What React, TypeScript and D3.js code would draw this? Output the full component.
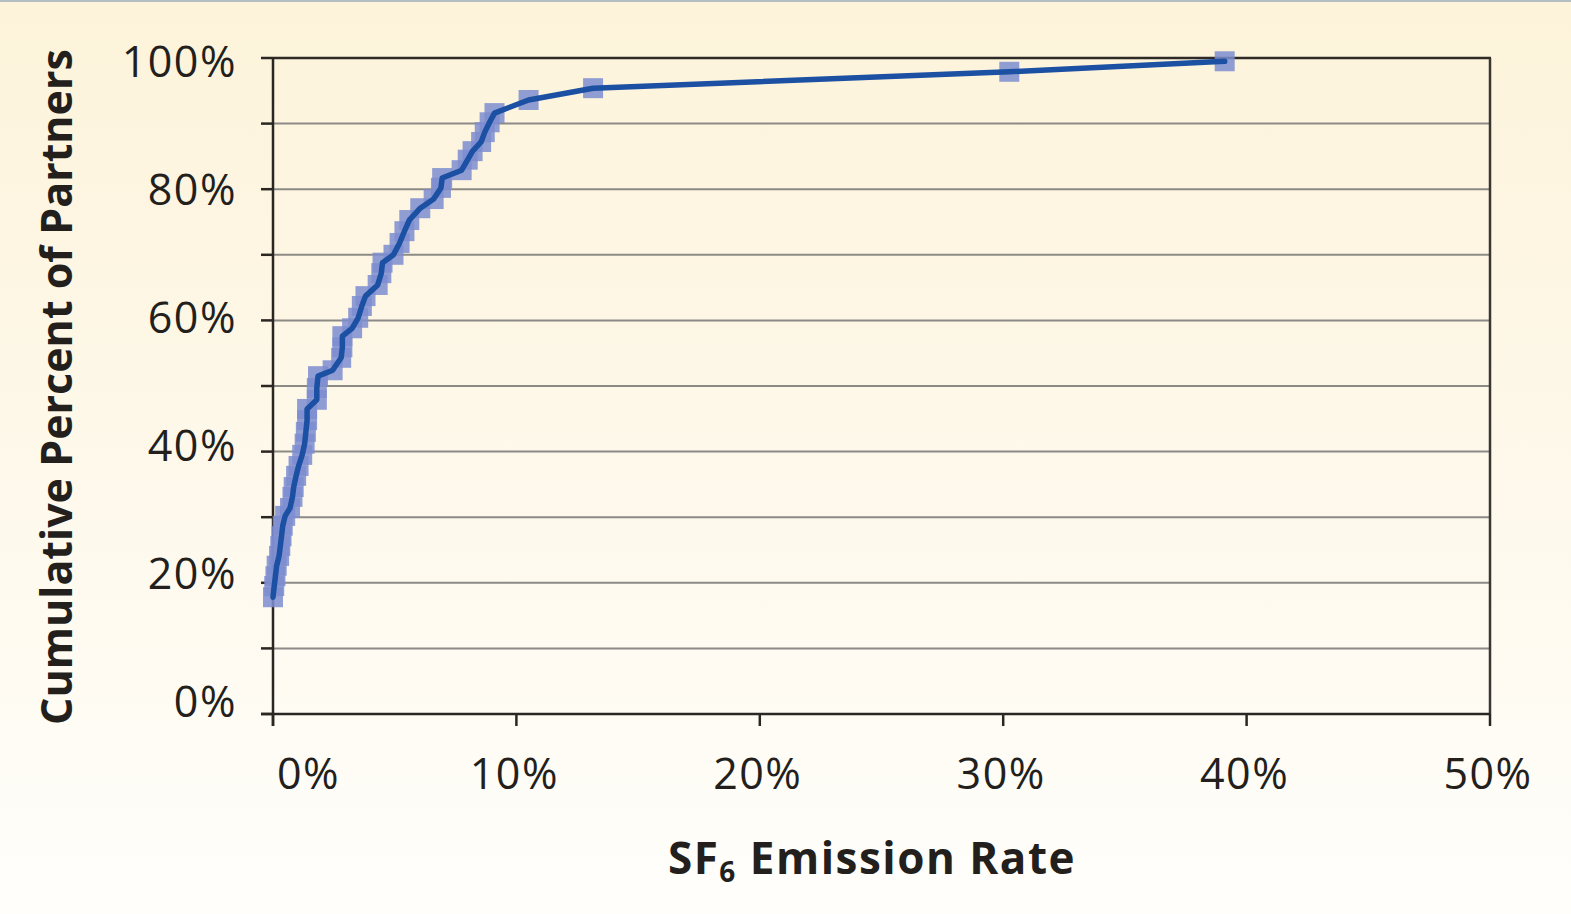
import React from "react";
import * as d3 from "d3";

const emissionRate: number[] = [
  0.0, 0.05, 0.1, 0.15, 0.25, 0.3, 0.35, 0.4, 0.5, 0.7, 0.8, 0.85, 0.95, 1.05, 1.2, 1.3,
  1.35, 1.4, 1.4, 1.8, 1.8, 1.85, 2.45, 2.8, 2.85, 2.85, 3.25, 3.5, 3.65, 3.8, 4.3, 4.45,
  4.5, 4.95, 5.2, 5.4, 5.6, 6.05, 6.6, 6.9, 6.95, 7.75, 8.0, 8.2, 8.55, 8.7, 8.9, 9.1,
  10.5, 13.15, 30.25, 39.1,
];
const cumulativePct: number[] = [
  17.8, 19.5, 21.0, 22.6, 24.1, 25.6, 27.1, 28.7, 30.2, 31.4, 33.1, 34.6, 36.3, 37.8, 39.5, 41.2,
  43.0, 44.8, 46.5, 47.9, 49.7, 51.5, 52.4, 54.3, 55.9, 57.6, 58.8, 60.4, 62.2, 63.7, 65.4, 67.2,
  68.8, 70.0, 71.8, 73.6, 75.3, 77.1, 78.5, 80.2, 81.7, 82.9, 84.5, 85.8, 87.2, 88.7, 90.2, 91.6,
  93.6, 95.4, 97.9, 99.5,
];
const xTickValues: number[] = [0, 10, 20, 30, 40, 50];
const yGridValues: number[] = [0, 10, 20, 30, 40, 50, 60, 70, 80, 90, 100];
const yLabelValues: number[] = [0, 20, 40, 60, 80, 100];

const W = 1571;
const H = 914;
const LEFT = 273;
const RIGHT = 1490;
const TOP = 58;
const BOTTOM = 714;

export default function App() {
  const x = d3.scaleLinear().domain([0, 50]).range([LEFT, RIGHT]);
  const y = d3.scaleLinear().domain([0, 100]).range([BOTTOM, TOP]);
  // tick labels sit slightly inside the gridline spacing in the original
  const yLabel = d3.scaleLinear().domain([0, 100]).range([700, 60]);

  const pts = emissionRate.map((r, i) => [r, cumulativePct[i]] as [number, number]);
  const line = d3
    .line<[number, number]>()
    .x((d) => x(d[0]))
    .y((d) => y(d[1]));

  const ms = 20;
  const font = "'Open Sans', 'Noto Sans', sans-serif";

  return (
    <svg
      width={W}
      height={H}
      style={{ position: "absolute", left: 0, top: 0, display: "block" }}
    >
      <defs>
        <linearGradient id="bg" x1="0" y1="0" x2="0" y2="1">
          <stop offset="0%" stopColor="#fdf3da" />
          <stop offset="55%" stopColor="#fef9ec" />
          <stop offset="100%" stopColor="#fffefb" />
        </linearGradient>
      </defs>
      <rect x={0} y={0} width={W} height={H} fill="url(#bg)" />
      <rect x={0} y={0} width={W} height={2} fill="#b4bcc4" />

      {/* gridlines */}
      {yGridValues
        .filter((v) => v !== 0 && v !== 100)
        .map((v) => (
          <line
            key={"g" + v}
            x1={LEFT}
            x2={RIGHT}
            y1={y(v)}
            y2={y(v)}
            stroke="#8c8a86"
            strokeWidth={2}
          />
        ))}
      {/* frame top & right */}
      <line x1={LEFT} x2={RIGHT + 1} y1={y(100)} y2={y(100)} stroke="#2e2a26" strokeWidth={2.5} />
      <line x1={RIGHT} x2={RIGHT} y1={y(100)} y2={BOTTOM} stroke="#3a3632" strokeWidth={2.5} />

      {/* y axis */}
      <line x1={LEFT} x2={LEFT} y1={y(100)} y2={BOTTOM + 12} stroke="#2a2622" strokeWidth={2.5} />
      {yGridValues.map((v) => (
        <line
          key={"yt" + v}
          x1={LEFT - 12}
          x2={LEFT}
          y1={y(v)}
          y2={y(v)}
          stroke="#2a2622"
          strokeWidth={2.5}
        />
      ))}
      {yLabelValues.map((v) => (
        <text
          key={"yl" + v}
          x={237}
          y={yLabel(v)}
          textAnchor="end"
          dominantBaseline="central"
          fontFamily={font}
          fontSize={43}
          letterSpacing={1.5}
          fill="#231f1c"
        >
          {v + "%"}
        </text>
      ))}

      {/* x axis */}
      <line x1={LEFT - 12} x2={RIGHT} y1={BOTTOM} y2={BOTTOM} stroke="#2a2622" strokeWidth={2.5} />
      {xTickValues.map((v) => (
        <line
          key={"xt" + v}
          x1={x(v)}
          x2={x(v)}
          y1={BOTTOM}
          y2={BOTTOM + 12}
          stroke="#2a2622"
          strokeWidth={2.5}
        />
      ))}
      {xTickValues.map((v, i) => (
        <text
          key={"xl" + v}
          x={i === 0 ? x(v) + 4 : x(v) - 2}
          y={789}
          textAnchor={i === 0 ? "start" : "middle"}
          fontFamily={font}
          fontSize={43}
          letterSpacing={1.5}
          fill="#231f1c"
        >
          {v + "%"}
        </text>
      ))}

      {/* axis titles */}
      <text
        transform={`translate(72, ${387}) rotate(-90)`}
        textAnchor="middle"
        fontFamily={font}
        fontWeight={700}
        fontSize={43}
        fill="#231f1c"
      >
        Cumulative Percent of Partners
      </text>
      <text
        x={872}
        y={874}
        textAnchor="middle"
        fontFamily={font}
        fontWeight={700}
        fontSize={44}
        letterSpacing={1.5}
        fill="#231f1c"
      >
        SF
        <tspan fontSize={28} dy={8}>6</tspan>
        <tspan dy={-8}> Emission Rate</tspan>
      </text>

      {/* markers */}
      {pts.map((d, i) => (
        <rect
          key={"m" + i}
          x={x(d[0]) - ms / 2}
          y={y(d[1]) - ms / 2}
          width={ms}
          height={ms}
          fill="#7d8dd0"
          fillOpacity={0.85}
        />
      ))}
      {/* line */}
      <path
        d={line(pts) || ""}
        fill="none"
        stroke="#1b50a3"
        strokeWidth={5.5}
        strokeLinejoin="round"
        strokeLinecap="round"
      />
    </svg>
  );
}
